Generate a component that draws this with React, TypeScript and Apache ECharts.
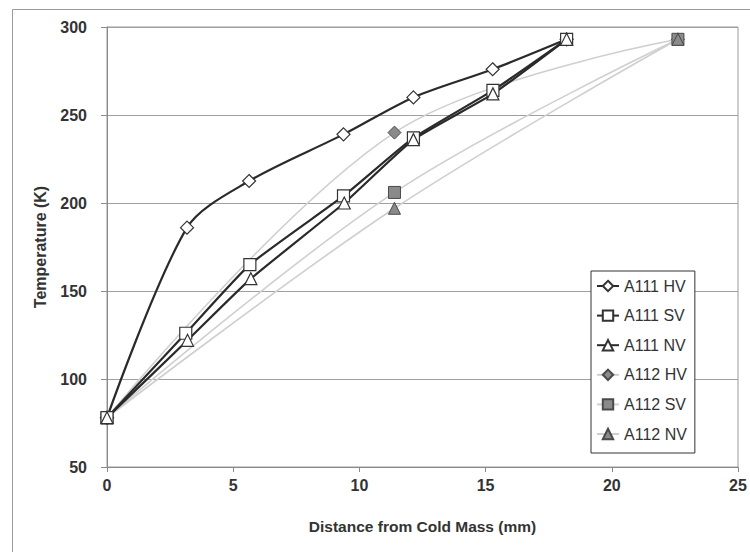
import React, { useEffect, useRef } from "react";
import * as echarts from "echarts";

const xTicks = [0, 5, 10, 15, 20, 25];
const yTicks = [50, 100, 150, 200, 250, 300];

const a111HvX = [0, 3.17, 5.63, 9.37, 12.14, 15.28, 18.21];
const a111HvY = [78, 186, 212.5, 239, 260, 276, 293];
const a111SvX = [0, 3.12, 5.66, 9.37, 12.14, 15.29, 18.21];
const a111SvY = [78, 126, 165, 204, 237, 264, 293];
const a111NvX = [0, 3.19, 5.7, 9.4, 12.14, 15.29, 18.21];
const a111NvY = [78, 122, 157, 200, 236, 262, 293];
const a112X = [0, 11.39, 22.62];
const a112HvY = [78, 240, 293];
const a112SvY = [78, 206, 293];
const a112NvY = [78, 197, 293];

const FONT = "'Liberation Sans', Arial, sans-serif";

function pairs(xs: number[], ys: number[]) {
  return xs.map((x, i) => [x, ys[i]]);
}

export default function App() {
  const ref = useRef<HTMLDivElement>(null);
  useEffect(() => {
    if (!ref.current) return;
    const chart = echarts.init(ref.current, null, { renderer: "svg" });
    const dark = (name: string, symbol: string, xs: number[], ys: number[], smooth: number) => ({
      name,
      type: "line",
      data: pairs(xs, ys),
      symbol,
      symbolSize: symbol === "diamond" ? 13 : 12,
      smooth,
      clip: false,
      lineStyle: { color: "#2a2a2a", width: 2.2 },
      itemStyle: { color: "#ffffff", borderColor: "#333333", borderWidth: 1.2 },
      z: 3,
    });
    const light = (name: string, symbol: string, ys: number[]) => ({
      name,
      type: "line",
      data: pairs(a112X, ys),
      symbol,
      symbolSize: symbol === "diamond" ? 13 : 12,
      smooth: 0.35,
      clip: false,
      lineStyle: { color: "#cfcfcf", width: 1.6 },
      itemStyle: { color: "#8a8a8a", borderColor: "#4a4a4a", borderWidth: 1 },
      z: 2,
    });
    chart.setOption({
      animation: false,
      backgroundColor: "#ffffff",
      textStyle: { fontFamily: FONT },
      grid: {
        left: 107,
        top: 27,
        right: 12,
        bottom: 85,
        show: true,
        borderColor: "#9a9a9a",
        borderWidth: 1,
      },
      graphic: [
        {
          type: "rect",
          shape: { x: 12.5, y: 9.5, width: 800, height: 600 },
          style: { fill: "none", stroke: "#9a9a9a", lineWidth: 1 },
          silent: true,
          z: -1,
        },
      ],
      xAxis: {
        type: "value",
        min: xTicks[0],
        max: xTicks[xTicks.length - 1],
        interval: 5,
        name: "Distance from Cold Mass (mm)",
        nameLocation: "middle",
        nameGap: 51,
        nameTextStyle: { fontFamily: FONT, fontWeight: "bold", fontSize: 15.5, color: "#333" },
        axisLine: { lineStyle: { color: "#8a8a8a", width: 1 } },
        axisTick: { show: true, inside: false, length: 5, lineStyle: { color: "#8a8a8a" } },
        axisLabel: { fontFamily: FONT, fontWeight: "bold", fontSize: 16, color: "#333", margin: 10 },
        splitLine: { show: false },
      },
      yAxis: {
        type: "value",
        min: yTicks[0],
        max: yTicks[yTicks.length - 1],
        interval: 50,
        name: "Temperature (K)",
        nameLocation: "middle",
        nameRotate: 90,
        nameGap: 59,
        nameTextStyle: { fontFamily: FONT, fontWeight: "bold", fontSize: 16, color: "#333" },
        axisLine: { show: true, lineStyle: { color: "#8a8a8a", width: 1 } },
        axisTick: { show: true, inside: false, length: 6, lineStyle: { color: "#8a8a8a" } },
        axisLabel: { fontFamily: FONT, fontWeight: "bold", fontSize: 16, color: "#333", margin: 20 },
        splitLine: { show: true, lineStyle: { color: "#a0a0a0", width: 1 } },
      },
      legend: {
        orient: "vertical",
        left: 591,
        top: 271,
        width: 105,
        padding: [7, 8, 11, 5],
        itemGap: 13.6,
        itemWidth: 22,
        itemHeight: 13,
        backgroundColor: "#ffffff",
        borderColor: "#333333",
        borderWidth: 1,
        textStyle: { fontFamily: FONT, fontSize: 16, color: "#333" },
        data: ["A111 HV", "A111 SV", "A111 NV", "A112 HV", "A112 SV", "A112 NV"],
      },
      series: [
        light("A112 HV", "diamond", a112HvY),
        light("A112 SV", "rect", a112SvY),
        light("A112 NV", "triangle", a112NvY),
        dark("A111 HV", "diamond", a111HvX, a111HvY, 0.3),
        dark("A111 SV", "rect", a111SvX, a111SvY, 0.15),
        dark("A111 NV", "triangle", a111NvX, a111NvY, 0.15),
      ],
    });
    return () => chart.dispose();
  }, []);
  return <div ref={ref} style={{ width: 750, height: 552, position: "absolute", left: 0, top: 0 }} />;
}
